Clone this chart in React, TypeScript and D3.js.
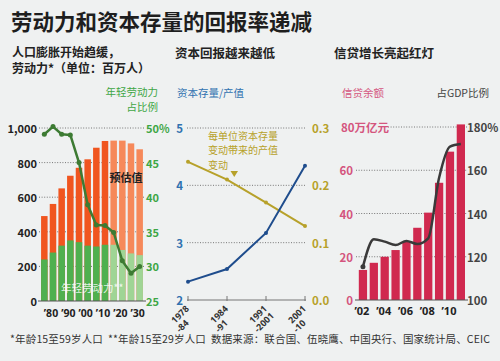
import React, { useEffect } from "react";
import * as d3 from "d3";

const FONT = "'Noto Sans CJK SC', 'Noto Sans', sans-serif";
const LATIN = "'Noto Sans', 'DejaVu Sans', sans-serif";

// panel 1: labour force (millions) and young share (%)
const laborYears = [1975, 1980, 1985, 1990, 1995, 2000, 2005, 2010, 2015, 2020, 2025, 2030];
const laborTotal = [491, 561, 651, 724, 770, 819, 886, 925, 927, 927, 911, 877];
const youngLabor = [240, 280, 320, 350, 340, 320, 315, 325, 325, 295, 275, 265];
const youngShare = [49.1, 50.2, 49.1, 49.0, 45.0, 38.9, 36.0, 35.9, 34.9, 30.8, 29.0, 30.0];
const laborTicks = [0, 200, 400, 600, 800, 1000];
const shareTicks = [25, 30, 35, 40, 45, 50];
const decadeLabels = [1980, 1990, 2000, 2010, 2020, 2030];
const forecastFrom = 2015;

// panel 2: capital stock / output
const periods = ["1978-84", "1984-91", "1991-2001", "2001-10"];
const periodLines = [["1978", "-84"], ["1984", "-91"], ["1991", "-2001"], ["2001", "-10"]];
const capitalOutput = [2.32, 2.54, 3.17, 4.34];
const marginalReturn = [0.241, 0.21, 0.17, 0.129];
const ratioTicks = [2, 3, 4, 5];
const returnTicks = [0, 0.1, 0.2, 0.3];

// panel 3: credit
const creditYears = [2002, 2003, 2004, 2005, 2006, 2007, 2008, 2009, 2010, 2011];
const creditStock = [13.9, 17.2, 20.0, 23.1, 27.0, 33.4, 40.4, 54.2, 68.6, 81.2];
const creditGdp = [115.4, 128.1, 127.0, 125.4, 127.3, 125.9, 128.5, 156.5, 170.9, 172.1];
const creditTicks = [0, 20, 40, 60, 80];
const gdpTicks = [100, 120, 140, 160, 180];
const creditLabelYears = [2002, 2004, 2006, 2008, 2010];

const C = {
  bg: "#eff1f1",
  ink: "#222",
  grid: "#777",
  orange: "#f0551f",
  orangeLight: "#f6895a",
  green: "#4fb04f",
  greenLight: "#9fd595",
  greenLine: "#3d7b33",
  greenText: "#3ea645",
  blue: "#2f72b0",
  blueLine: "#1f4d8d",
  gold: "#b7a12a",
  pink: "#d4557e",
  crimson: "#d0294f",
  dark: "#3a3a3a",
};

const shortYear = (d: number) => "\u2019" + String(d).slice(2);

function Grid({ x1, x2, y }: { x1: number; x2: number; y: number }) {
  return <line x1={x1} x2={x2} y1={y} y2={y} stroke={C.grid} strokeWidth={1} strokeDasharray="1,1.6" />;
}

function LaborPanel() {
  const x = d3.scaleBand<number>().domain(laborYears).range([40, 144]).paddingInner(0.25).paddingOuter(0.125);
  const y = d3.scaleLinear().domain([0, 1000]).range([301, 128]);
  const yr = d3.scaleLinear().domain([25, 50]).range([301, 128]);
  const cx = (d: number) => (x(d) as number) + x.bandwidth() / 2;
  const line = d3.line<number>().x((_, i) => cx(laborYears[i])).y((d) => yr(d));
  const fmt = d3.format(",");
  return (
    <g>
      <text x={158} y={91} fontSize={10.5} fill={C.greenText} textAnchor="end" dominantBaseline="central">年轻劳动力</text>
      <text x={158} y={106} fontSize={10.5} fill={C.greenText} textAnchor="end" dominantBaseline="central">占比例</text>
      {laborTicks.filter((t) => t > 0).map((t) => <Grid key={t} x1={39} x2={144} y={y(t)} />)}
      {laborYears.map((yr0, i) => {
        const fc = yr0 >= forecastFrom;
        return (
          <g key={yr0}>
            <rect x={x(yr0)} width={x.bandwidth()} y={y(laborTotal[i])} height={y(0) - y(laborTotal[i])} fill={fc ? C.orangeLight : C.orange} />
            <rect x={x(yr0)} width={x.bandwidth()} y={y(youngLabor[i])} height={y(0) - y(youngLabor[i])} fill={fc ? C.greenLight : C.green} />
          </g>
        );
      })}
      <line x1={38} x2={146} y1={y(0)} y2={y(0)} stroke="#555" strokeWidth={1.2} />
      {laborTicks.map((t) => (
        <text key={t} x={37} y={y(t)} fontSize={11} fontWeight="bold" fill={C.ink} textAnchor="end" dominantBaseline="central">{fmt(t)}</text>
      ))}
      {shareTicks.map((t) => (
        <text key={t} x={146} y={yr(t)} fontSize={11} fontWeight="bold" fill={C.greenText} dominantBaseline="central">{t === 50 ? "50%" : t}</text>
      ))}
      <path d={line(youngShare) || ""} fill="none" stroke={C.greenLine} strokeWidth={2.5} strokeLinejoin="round" />
      {youngShare.map((d, i) => <circle key={i} cx={cx(laborYears[i])} cy={yr(d)} r={2.5} fill={C.greenLine} />)}
      {decadeLabels.map((d) => (
        <text key={d} x={cx(d) - 2} y={313} fontSize={10.5} fontWeight="bold" fill={C.ink} fontFamily={LATIN} textAnchor="middle" dominantBaseline="central">{shortYear(d)}</text>
      ))}
      <text x={126} y={176.5} fontSize={11} fontWeight="bold" fill={C.ink} textAnchor="middle" dominantBaseline="central">预估值</text>
      <text x={61} y={287} fontSize={10.5} fill="#fff" fillOpacity={0.85} dominantBaseline="central">年轻劳动力**</text>
    </g>
  );
}

function CapitalPanel() {
  const x = d3.scalePoint<string>().domain(periods).range([188, 305]);
  const y = d3.scaleLinear().domain([2, 5]).range([300, 128]);
  const yr = d3.scaleLinear().domain([0, 0.3]).range([300, 128]);
  const ratioLine = d3.line<number>().x((_, i) => x(periods[i]) as number).y((d) => y(d));
  const returnLine = d3.line<number>().x((_, i) => x(periods[i]) as number).y((d) => yr(d));
  return (
    <g>
      <text x={177} y={92.5} fontSize={10.5} fill={C.blue} dominantBaseline="central">资本存量/产值</text>
      {ratioTicks.filter((t) => t > 2).map((t) => <Grid key={t} x1={187} x2={306} y={y(t)} />)}
      <line x1={187} x2={306} y1={y(2)} y2={y(2)} stroke="#777" strokeWidth={1.2} />
      {periods.map((p) => <line key={p} x1={x(p)} x2={x(p)} y1={y(2) - 4} y2={y(2) + 1} stroke="#777" strokeWidth={1} />)}
      {ratioTicks.map((t) => (
        <text key={t} x={183} y={y(t)} fontSize={11.5} fontWeight="bold" fill={C.blue} textAnchor="end" dominantBaseline="central">{t}</text>
      ))}
      {returnTicks.map((t) => (
        <text key={t} x={312} y={yr(t)} fontSize={11.5} fontWeight="bold" fill={C.gold} dominantBaseline="central">{d3.format(".1f")(t)}</text>
      ))}
      <path d={returnLine(marginalReturn) || ""} fill="none" stroke={C.gold} strokeWidth={2} />
      {marginalReturn.map((d, i) => <circle key={i} cx={x(periods[i])} cy={yr(d)} r={2} fill={C.gold} />)}
      <path d={ratioLine(capitalOutput) || ""} fill="none" stroke={C.blueLine} strokeWidth={2} />
      {capitalOutput.map((d, i) => <circle key={i} cx={x(periods[i])} cy={y(d)} r={2} fill={C.blueLine} />)}
      <text x={208} y={135} fontSize={10} fill={C.gold} dominantBaseline="central">每单位资本存量</text>
      <text x={208} y={149.5} fontSize={10} fill={C.gold} dominantBaseline="central">变动带来的产值</text>
      <text x={208} y={164} fontSize={10} fill={C.gold} dominantBaseline="central">变动</text>
      <path d="M230.5,171 L238,171 L234.25,177 Z" fill={C.gold} />
      {periods.map((p, i) => {
        const px = x(p) as number;
        return (
          <g key={p} fontSize={9} fontWeight="bold" fill="#333" fontFamily={LATIN}>
            <text transform={`translate(${px - 13},${324}) rotate(-45)`}>{periodLines[i][0]}</text>
            <text transform={`translate(${px - 8},${333}) rotate(-45)`}>{periodLines[i][1]}</text>
          </g>
        );
      })}
    </g>
  );
}

function CreditPanel() {
  const x = d3.scaleBand<number>().domain(creditYears).range([357.5, 466.3]).paddingInner(0.24).paddingOuter(0.12);
  const y = d3.scaleLinear().domain([0, 80]).range([300, 127]);
  const yr = d3.scaleLinear().domain([100, 180]).range([300, 127]);
  const cx = (d: number) => (x(d) as number) + x.bandwidth() / 2;
  const line = d3.line<number>().x((_, i) => cx(creditYears[i])).y((d) => yr(d)).curve(d3.curveMonotoneX);
  return (
    <g>
      <text x={342} y={92} fontSize={10.5} fill={C.pink} dominantBaseline="central">信贷余额</text>
      <text x={489} y={92} fontSize={10.5} fill="#444" textAnchor="end" dominantBaseline="central">占GDP比例</text>
      {creditTicks.filter((t) => t > 0).map((t) => <Grid key={t} x1={t === 80 ? 388 : 356} x2={467} y={y(t)} />)}
      {creditYears.map((yr0, i) => (
        <rect key={yr0} x={x(yr0)} width={x.bandwidth()} y={y(creditStock[i])} height={y(0) - y(creditStock[i])} fill={C.crimson} />
      ))}
      <line x1={355} x2={468} y1={y(0)} y2={y(0)} stroke="#555" strokeWidth={1.2} />
      {creditTicks.map((t) =>
        t === 80 ? (
          <text key={t} x={341} y={y(t)} fontSize={11.5} fontWeight="bold" fill={C.pink} dominantBaseline="central">80万亿元</text>
        ) : (
          <text key={t} x={353} y={y(t)} fontSize={11.5} fontWeight="bold" fill={C.pink} textAnchor="end" dominantBaseline="central">{t}</text>
        )
      )}
      {gdpTicks.map((t) => (
        <text key={t} x={467} y={yr(t)} fontSize={11.5} fontWeight="bold" fill="#444" dominantBaseline="central">{t === 180 ? "180%" : t}</text>
      ))}
      <path d={line(creditGdp) || ""} fill="none" stroke={C.dark} strokeWidth={2.5} strokeLinejoin="round" />
      <circle cx={cx(creditYears[0])} cy={yr(creditGdp[0])} r={2.5} fill={C.dark} />
      {creditLabelYears.map((d) => (
        <text key={d} x={cx(d) - 1} y={310} fontSize={11} fontWeight="bold" fill={C.ink} fontFamily={LATIN} textAnchor="middle" dominantBaseline="central">{shortYear(d)}</text>
      ))}
    </g>
  );
}

export default function App() {
  useEffect(() => {
    document.body.style.margin = "0";
  }, []);
  return (
    <svg width={500} height={361} viewBox="0 0 500 361" style={{ display: "block", fontFamily: FONT }}>
      <rect width={500} height={361} fill={C.bg} />
      <text x={11} y={20} fontSize={21.5} fontWeight="bold" fill="#1e1e1e" dominantBaseline="central">劳动力和资本存量的回报率递减</text>
      <text x={12} y={51} fontSize={12} fontWeight="bold" fill={C.ink} dominantBaseline="central">人口膨胀开始趋缓，</text>
      <text x={12} y={67} fontSize={12} fontWeight="bold" fill={C.ink} dominantBaseline="central">劳动力*（单位：百万人）</text>
      <text x={175} y={52.5} fontSize={12.5} fontWeight="bold" fill={C.ink} dominantBaseline="central">资本回报越来越低</text>
      <text x={334} y={52.5} fontSize={12.5} fontWeight="bold" fill={C.ink} dominantBaseline="central">信贷增长亮起红灯</text>
      <LaborPanel />
      <CapitalPanel />
      <CreditPanel />
      <text x={10} y={338} fontSize={10.5} fill="#333" dominantBaseline="central" textLength={480} lengthAdjust="spacing" style={{ whiteSpace: "pre" }}>
        {"*年龄15至59岁人口  **年龄15至29岁人口  数据来源：联合国、伍晓鹰、中国央行、国家统计局、CEIC"}
      </text>
    </svg>
  );
}
